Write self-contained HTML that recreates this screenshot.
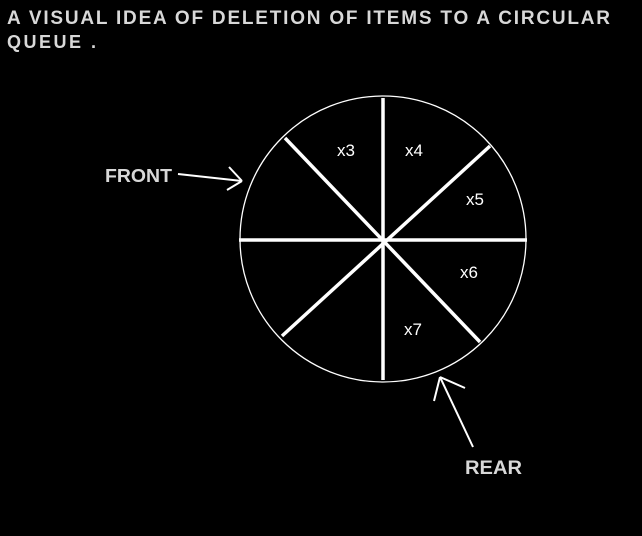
<!DOCTYPE html>
<html><head><meta charset="utf-8"><style>
html,body{margin:0;padding:0;background:#000;}
svg{display:block}
text{font-family:"Liberation Sans",Arial,sans-serif;font-weight:bold;fill:#d8d8d8;}
</style></head><body>
<svg width="642" height="536" viewBox="0 0 642 536">
<rect width="642" height="536" fill="#000"/>
<text x="7" y="24" font-size="19" textLength="603" lengthAdjust="spacing">A VISUAL IDEA OF DELETION OF ITEMS TO A CIRCULAR</text>
<text x="7" y="48" font-size="18" textLength="89" lengthAdjust="spacing">QUEUE .</text>
<circle cx="383" cy="239" r="143" fill="none" stroke="#fff" stroke-width="1.3"/>
<g stroke="#fff" stroke-width="3.5">
<line x1="239" y1="240" x2="527" y2="240"/>
<line x1="383" y1="98" x2="383" y2="380"/>
<line x1="285" y1="138" x2="480" y2="342"/>
<line x1="490" y1="146" x2="282" y2="336"/>
</g>
<g font-size="17">
<text x="337" y="156" style="font-weight:normal;fill:#fff">x3</text>
<text x="405" y="156" style="font-weight:normal;fill:#fff">x4</text>
<text x="466" y="205" style="font-weight:normal;fill:#fff">x5</text>
<text x="460" y="278" style="font-weight:normal;fill:#fff">x6</text>
<text x="404" y="335" style="font-weight:normal;fill:#fff">x7</text>
</g>
<text x="105" y="182" font-size="18" textLength="67" lengthAdjust="spacingAndGlyphs">FRONT</text>
<g stroke="#fff" stroke-width="2" fill="none">
<line x1="178" y1="174" x2="242" y2="181"/>
<line x1="229" y1="167" x2="242" y2="181"/>
<line x1="227" y1="190" x2="242" y2="181"/>
<line x1="473" y1="447" x2="440" y2="377"/>
<line x1="434" y1="401" x2="440" y2="377"/>
<line x1="465" y1="388" x2="440" y2="377"/>
</g>
<text x="465" y="474" font-size="19" textLength="57" lengthAdjust="spacingAndGlyphs">REAR</text>
</svg>
</body></html>
